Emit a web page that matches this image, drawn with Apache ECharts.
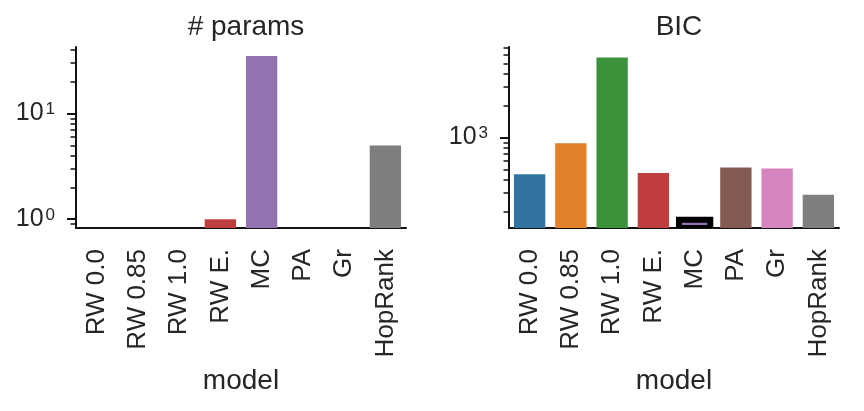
<!DOCTYPE html>
<html>
<head>
<meta charset="utf-8">
<script src="https://cdn.jsdelivr.net/npm/echarts@6/dist/echarts.min.js"></script>
<style>
  html, body { margin: 0; padding: 0; background: #fff; }
  #chart { width: 864px; height: 411px; }
</style>
</head>
<body>
<div id="chart"></div>
<script>
// categories
const models = ['RW 0.0', 'RW 0.85', 'RW 1.0', 'RW E.', 'MC', 'PA', 'Gr', 'HopRank'];
// # params per model (0 cannot be drawn on a log axis)
const paramCounts = [0, 0, 0, 1, 35, 0, 0, 5];
// BIC per model
const bicValues = [450, 880, 5700, 460, 167, 520, 510, 288];
// the model with the lowest BIC gets a black outline
const bicBest = 4;

// log axis ticks
const paramsMajor = [1, 10];
const paramsMinor = [0.9, 2, 3, 4, 5, 6, 7, 8, 9, 20, 30, 40];
const bicMajor = [1000];
const bicMinor = [200, 300, 400, 500, 600, 700, 800, 900, 2000, 3000, 4000, 5000, 6000, 7000];

// seaborn deep palette, desaturated like barplot does
const palette = ['#3274a1', '#e1812c', '#3a923a', '#c03d3e', '#9372b2', '#845b53', '#d684bd', '#7f7f7f'];

const ink = '#262626';
const font = 'Liberation Sans, Arial, sans-serif';
const barFrac = 0.76;

// log10 range shown on each y axis
const paramsRange = [-0.083, 1.63];
const bicRange = [2.144, 3.855];

const chart = echarts.init(document.getElementById('chart'));

function panel(g, range, values, major, minor) {
  const lo = range[0];
  const pos = v => Math.log10(v) - lo;
  const xAxis = {
    type: 'category',
    gridIndex: g,
    data: models,
    axisLine: { lineStyle: { color: '#111', width: 2 } },
    axisTick: { alignWithLabel: true, length: 9, lineStyle: { color: '#111', width: 2 } },
    axisLabel: { rotate: 90, margin: 21, fontSize: 26, color: ink, fontFamily: font, interval: 0 },
    name: 'model',
    nameLocation: 'middle',
    nameGap: 139,
    nameTextStyle: { fontSize: 28, color: ink, fontFamily: font }
  };
  const yMajor = {
    type: 'value',
    gridIndex: g,
    position: 'left',
    min: 0,
    max: range[1] - lo,
    splitLine: { show: false },
    axisLine: { show: true, lineStyle: { color: '#111', width: 2 } },
    axisTick: { show: true, length: 9, lineStyle: { color: '#111', width: 2 }, customValues: major.map(pos) },
    axisLabel: {
      customValues: major.map(pos),
      margin: 21,
      formatter: v => '{b|10}{s|' + Math.round(v + lo) + '}',
      rich: {
        b: { fontSize: 25, color: ink, fontFamily: font },
        s: { fontSize: 17, color: ink, fontFamily: font, verticalAlign: 'top', padding: [0, 0, 0, 2] }
      }
    }
  };
  const yMinor = {
    type: 'value',
    gridIndex: g,
    position: 'left',
    min: 0,
    max: range[1] - lo,
    splitLine: { show: false },
    axisLine: { show: false },
    axisTick: { show: true, length: 5.5, lineStyle: { color: '#111', width: 1.5 }, customValues: minor.map(pos) },
    axisLabel: { show: false }
  };
  const series = {
    type: 'bar',
    xAxisIndex: g,
    yAxisIndex: g * 2,
    barWidth: (barFrac * 100) + '%',
    data: values.map((v, i) => v > 0 ? { value: pos(v), itemStyle: { color: palette[i] } } : '-')
  };
  return { xAxis, yAxes: [yMajor, yMinor], series, pos };
}

const p1 = panel(0, paramsRange, paramCounts, paramsMajor, paramsMinor);
const p2 = panel(1, bicRange, bicValues, bicMajor, bicMinor);

// black outline round the best BIC bar, stroke centred on the bar edge
const outline = {
  type: 'custom',
  xAxisIndex: 1,
  yAxisIndex: 2,
  clip: true,
  z: 3,
  data: [[bicBest, p2.pos(bicValues[bicBest])]],
  renderItem: (params, api) => {
    const top = api.coord([api.value(0), api.value(1)]);
    const base = api.coord([api.value(0), 0]);
    const w = api.size([1, 0])[0] * barFrac;
    return {
      type: 'rect',
      shape: { x: top[0] - w / 2, y: top[1], width: w, height: base[1] - top[1] },
      style: { fill: 'none', stroke: '#000', lineWidth: 6 }
    };
  }
};

chart.setOption({
  animation: false,
  title: [
    { text: '# params', left: 241, top: 8, textAlign: 'center',
      textStyle: { fontSize: 28, fontWeight: 'normal', color: ink, fontFamily: font } },
    { text: 'BIC', left: 674, top: 8, textAlign: 'center',
      textStyle: { fontSize: 28, fontWeight: 'normal', color: ink, fontFamily: font } }
  ],
  grid: [
    { left: 76, top: 47, width: 330, height: 181 },
    { left: 509, top: 47, width: 330, height: 181 }
  ],
  xAxis: [p1.xAxis, p2.xAxis],
  yAxis: [...p1.yAxes, ...p2.yAxes],
  series: [p1.series, p2.series, outline]
});
</script>
</body>
</html>
